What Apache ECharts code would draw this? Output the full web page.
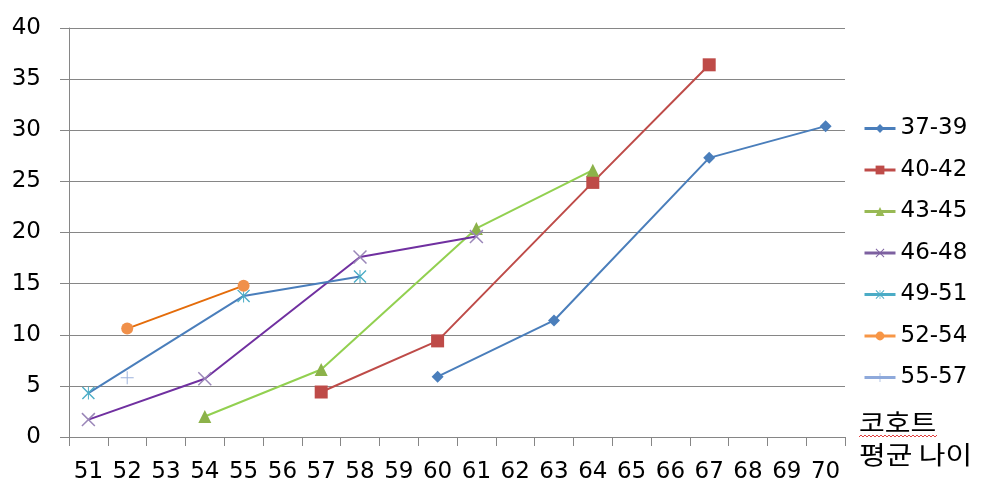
<!DOCTYPE html>
<html>
<head>
<meta charset="utf-8">
<script src="https://cdn.jsdelivr.net/npm/echarts@6/dist/echarts.min.js"></script>
<style>
html,body{margin:0;padding:0;background:#fff;}
#c{width:986px;height:494px;}
</style>
</head>
<body>
<div id="c"></div>
<script>
// Category ticks (average age of cohort)
var ages = ['51','52','53','54','55','56','57','58','59','60','61','62','63','64','65','66','67','68','69','70'];
var yTicks = [0, 5, 10, 15, 20, 25, 30, 35, 40];

// Series: ages at which each cohort is observed, and values
var names = ['37-39','40-42','43-45','46-48','49-51','52-54','55-57'];
var x3739 = ['60','63','67','70'];   var y3739 = [5.9, 11.4, 27.3, 30.4];
var x4042 = ['57','60','64','67'];   var y4042 = [4.4, 9.4, 24.9, 36.4];
var x4345 = ['54','57','61','64'];   var y4345 = [2.0, 6.6, 20.4, 26.1];
var x4648 = ['51','54','58','61'];   var y4648 = [1.7, 5.7, 17.6, 19.6];
var x4951 = ['51','55','58'];        var y4951 = [4.3, 13.8, 15.7];
var x5254 = ['52','55'];             var y5254 = [10.6, 14.8];
var x5557 = ['52'];                  var y5557 = [5.8];

var xsAll = [x3739, x4042, x4345, x4648, x4951, x5254, x5557];
var ysAll = [y3739, y4042, y4345, y4648, y4951, y5254, y5557];

var lineColors   = ['#4A7EBB','#BE4B48','#92D050','#7030A0','#4A7EBB','#E46C0A','#8EA9DB'];
var markerColors = ['#4A7EBB','#BE4B48','#8CB24A','#9A86B8','#4BACC6','#F0904A','#9DB3DD'];
var legendColors = ['#4A7EBB','#BE4B48','#98B954','#7D60A0','#4BACC6','#F79646','#8EA9DB'];

var X_PATH = 'path://M0,1.5L1.5,0L20,18.5L18.5,20ZM18.5,0L20,1.5L1.5,20L0,18.5Z';
var AST_PATH = 'path://M0,1.5L1.5,0L20,18.5L18.5,20ZM18.5,0L20,1.5L1.5,20L0,18.5ZM9.25,0L10.75,0L10.75,20L9.25,20Z';
var PLUS_PATH = 'path://M9.25,0L10.75,0L10.75,20L9.25,20ZM0,9.25L20,9.25L20,10.75L0,10.75Z';
var symbols = ['diamond','rect','triangle', X_PATH, AST_PATH, 'circle', PLUS_PATH];
var sizes = [12, 13, 13, 14, 13, 12, 13];

var series = names.map(function(n, i){
  var data = xsAll[i].map(function(x, j){ return [x, ysAll[i][j]]; });
  return {
    name: n,
    type: 'line',
    data: data,
    symbol: symbols[i],
    symbolSize: sizes[i],
    showSymbol: true,
    lineStyle: { color: lineColors[i], width: 2 },
    itemStyle: { color: markerColors[i] },
    emphasis: { disabled: true },
    animation: false,
    z: 3
  };
});

var chart = echarts.init(document.getElementById('c'));
var font = '"DejaVu Sans", sans-serif';
var waves = [];
for (var k = 0; k <= 39; k++) { waves.push([859 + 2 * k, k % 2 === 0 ? 437 : 435]); }
chart.setOption({
  animation: false,
  backgroundColor: '#fff',
  grid: { left: 69, right: 141, top: 28, bottom: 57, containLabel: false },
  xAxis: {
    type: 'category',
    data: ages,
    boundaryGap: true,
    axisLine: { show: true, lineStyle: { color: '#868686', width: 1 } },
    axisTick: { show: true, inside: false, length: 9, interval: 0, lineStyle: { color: '#868686' } },
    axisLabel: { interval: 0, margin: 24, color: '#000', fontSize: 23, fontFamily: font },
    splitLine: { show: false }
  },
  yAxis: {
    type: 'value',
    min: yTicks[0], max: yTicks[yTicks.length-1], interval: 5,
    axisLine: { show: true, lineStyle: { color: '#868686', width: 1 } },
    axisTick: { show: true, inside: false, length: 9, lineStyle: { color: '#868686' } },
    axisLabel: { margin: 28, color: '#000', fontSize: 23, fontFamily: font },
    splitLine: { show: true, lineStyle: { color: '#868686', width: 1 } }
  },
  legend: {
    orient: 'vertical',
    left: 863, top: 117,
    padding: 0,
    itemWidth: 31, itemHeight: 11,
    itemGap: 18.5,
    textStyle: { color: '#000', fontSize: 23, fontFamily: font, lineHeight: 23 },
    data: names.map(function(n, i){
      return { name: n, itemStyle: { color: legendColors[i] }, lineStyle: { color: legendColors[i], width: 3 } };
    }),
    selectedMode: false
  },
  graphic: [
    { type: 'text', left: 859, top: 410, scaleX: 1.12, style: { text: '코호트', fill: '#000', font: '25px "Noto Sans CJK KR"' } },
    { type: 'polyline', shape: { points: waves }, style: { stroke: '#E04040', lineWidth: 1, fill: null } },
    { type: 'text', left: 859, top: 442, scaleX: 1.16, style: { text: '평균 나이', fill: '#000', font: '25px "Noto Sans CJK KR"' } }
  ],
  series: series
});
</script>
</body>
</html>
